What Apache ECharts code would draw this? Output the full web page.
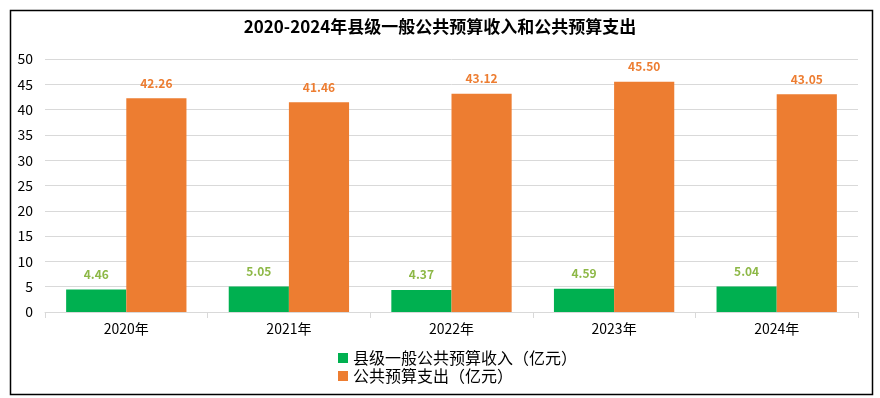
<!DOCTYPE html>
<html>
<head>
<meta charset="utf-8">
<script src="https://cdn.jsdelivr.net/npm/echarts@6/dist/echarts.min.js"></script>
<style>
  html, body { margin: 0; padding: 0; background: #fff; }
  #main { width: 880px; height: 398px; }
</style>
</head>
<body>
<div id="main"></div>
<script>
// 数据
let years = ['2020年', '2021年', '2022年', '2023年', '2024年'];
let income = [4.46, 5.05, 4.37, 4.59, 5.04];    // 县级一般公共预算收入
let expense = [42.26, 41.46, 43.12, 45.50, 43.05]; // 公共预算支出
let yTicks = [0, 5, 10, 15, 20, 25, 30, 35, 40, 45, 50];

let font = '"Noto Sans CJK SC", "Noto Sans", sans-serif';
let chart = echarts.init(document.getElementById('main'));
let option = {
    animation: false,
    backgroundColor: '#fff',
    textStyle: {fontFamily: font},
    title: {
        text: '2020-2024年县级一般公共预算收入和公共预算支出',
        left: 'center', top: 13,
        textStyle: {fontSize: 17, fontWeight: 'bold', color: '#000', fontFamily: font}
    },
    graphic: [{
        type: 'rect', left: 8, top: 8, z: -1,
        shape: {width: 862, height: 384},
        style: {fill: 'none', stroke: '#000', lineWidth: 1.5}
    }],
    legend: {
        orient: 'vertical', left: 333, top: 345, itemGap: 2,
        itemWidth: 10, itemHeight: 10, icon: 'rect',
        textStyle: {fontSize: 16, color: '#000', fontFamily: font},
        data: ['县级一般公共预算收入（亿元）', '公共预算支出（亿元）']
    },
    grid: {left: 45, right: 22, top: 59, bottom: 86},
    xAxis: {
        type: 'category', data: years,
        axisLine: {lineStyle: {color: '#d9d9d9'}},
        axisTick: {show: true, length: 6, lineStyle: {color: '#d9d9d9'}},
        axisLabel: {fontSize: 14, color: '#000', margin: 10}
    },
    yAxis: {
        type: 'value', min: yTicks[0], max: yTicks[yTicks.length - 1], interval: 5,
        axisLine: {show: false}, axisTick: {show: false},
        axisLabel: {fontSize: 14, color: '#000', margin: 12},
        splitLine: {lineStyle: {color: '#d9d9d9'}}
    },
    series: [{
        name: '县级一般公共预算收入（亿元）', type: 'bar', data: income,
        barGap: '0%', barCategoryGap: '26%',
        itemStyle: {color: '#00B050'},
        label: {show: true, position: 'top', distance: 9, fontSize: 12, fontWeight: 'bold',
            color: '#8DB846', formatter: p => p.value.toFixed(2)}
    }, {
        name: '公共预算支出（亿元）', type: 'bar', data: expense,
        itemStyle: {color: '#ED7D31'},
        label: {show: true, position: 'top', distance: 9, fontSize: 12, fontWeight: 'bold',
            color: '#ED7D31', formatter: p => p.value.toFixed(2)}
    }]
};
chart.setOption(option);
</script>
</body>
</html>
